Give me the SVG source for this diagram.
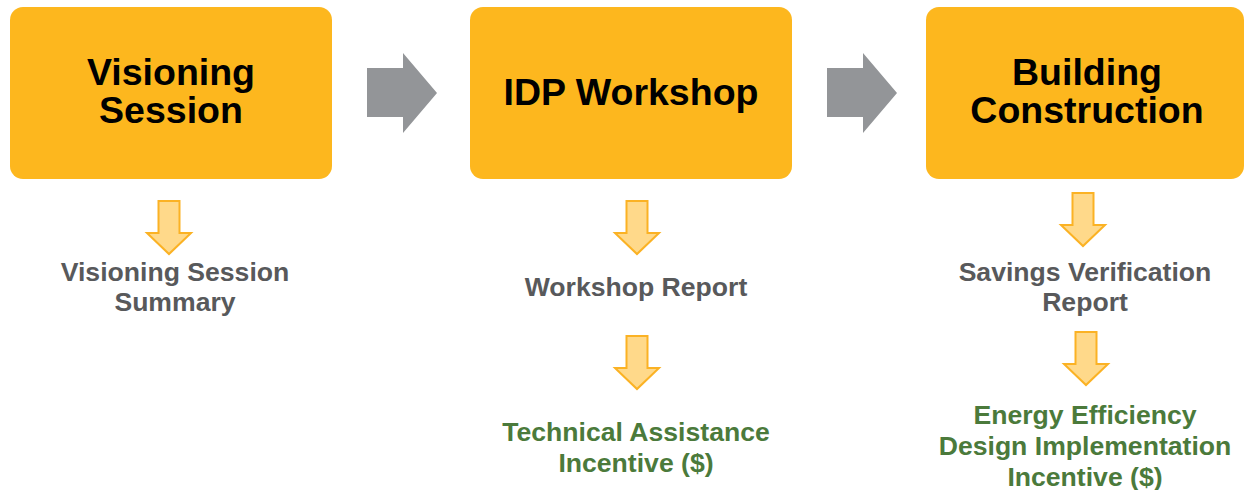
<svg xmlns="http://www.w3.org/2000/svg" xmlns:xlink="http://www.w3.org/1999/xlink" width="1244" height="490" viewBox="0 0 1244 490">
  <style>
    .box { fill: #FDB71E; }
    .title { font-family: "Liberation Sans", Arial, sans-serif; font-weight: bold; font-size: 37.5px; fill: #000000; text-anchor: middle; }
    .out { font-family: "Liberation Sans", Arial, sans-serif; font-weight: bold; font-size: 26.6px; fill: #58595B; text-anchor: middle; }
    .inc { font-family: "Liberation Sans", Arial, sans-serif; font-weight: bold; font-size: 26.6px; fill: #4B7A3B; text-anchor: middle; }
    .flow { fill: #939598; }
    .down { fill: #FFD98A; stroke: #FBB224; stroke-width: 2; stroke-linejoin: miter; }
  </style>
  <defs>
    <path id="downArrow" d="M -10.5 0 H 10.5 V 32 H 22 L 0 53 L -22 32 H -10.5 Z"/>
  </defs>
  <rect width="1244" height="490" fill="#FFFFFF"/>

  <g id="node-visioning">
    <rect class="box" x="10" y="7" width="322" height="172" rx="13"/>
    <text class="title" x="171" y="85">Visioning</text>
    <text class="title" x="171" y="123">Session</text>
  </g>
  <g id="node-idp">
    <rect class="box" x="470" y="7" width="322" height="172" rx="13"/>
    <text class="title" x="631" y="105">IDP Workshop</text>
  </g>
  <g id="node-construction">
    <rect class="box" x="926" y="7" width="318" height="172" rx="13"/>
    <text class="title" x="1087" y="85">Building</text>
    <text class="title" x="1087" y="123">Construction</text>
  </g>

  <g id="node-summary">
    <text class="out" x="175" y="281">Visioning Session</text>
    <text class="out" x="175" y="311">Summary</text>
  </g>
  <g id="node-workshop-report">
    <text class="out" x="636" y="296">Workshop Report</text>
  </g>
  <g id="node-ta-incentive">
    <text class="inc" x="636" y="441">Technical Assistance</text>
    <text class="inc" x="636" y="472">Incentive ($)</text>
  </g>
  <g id="node-savings-report">
    <text class="out" x="1085" y="281">Savings Verification</text>
    <text class="out" x="1085" y="311">Report</text>
  </g>
  <g id="node-ee-incentive">
    <text class="inc" x="1085" y="424">Energy Efficiency</text>
    <text class="inc" x="1085" y="455">Design Implementation</text>
    <text class="inc" x="1085" y="486">Incentive ($)</text>
  </g>

  <g id="connectors">
    <path class="flow" d="M 367 68 H 403 V 53 L 437 93 L 403 133 V 117 H 367 Z"/>
    <path class="flow" d="M 827 68 H 863 V 53 L 897 93 L 863 133 V 117 H 827 Z"/>
    <use xlink:href="#downArrow" href="#downArrow" class="down" transform="translate(169 201)"/>
    <use xlink:href="#downArrow" href="#downArrow" class="down" transform="translate(637 201)"/>
    <use xlink:href="#downArrow" href="#downArrow" class="down" transform="translate(637 336)"/>
    <use xlink:href="#downArrow" href="#downArrow" class="down" transform="translate(1083 193)"/>
    <use xlink:href="#downArrow" href="#downArrow" class="down" transform="translate(1086 332)"/>
  </g>
</svg>
